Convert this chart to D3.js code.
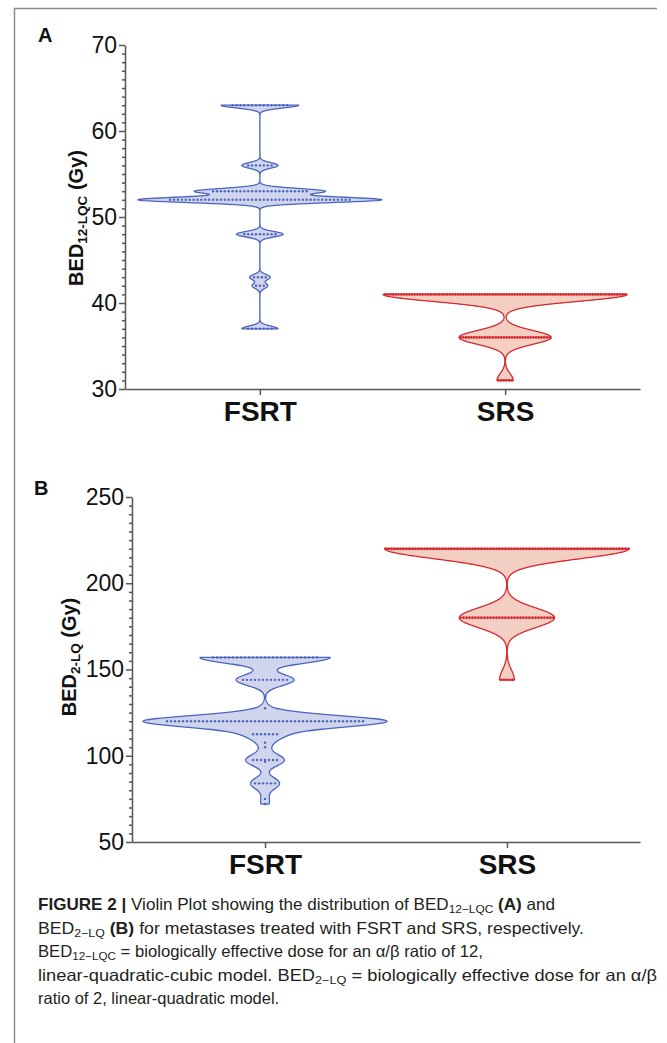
<!DOCTYPE html>
<html>
<head>
<meta charset="utf-8">
<script src="https://cdn.jsdelivr.net/npm/d3@7"></script>
<style>
  body { margin: 0; background: #fff; }
  svg { display: block; font-family: "Liberation Sans", Arial, sans-serif; }
</style>
</head>
<body>
<div class="myChart"></div>
<script>
var svgWidth = 667;
var svgHeight = 1043;

var groups = ["FSRT", "SRS"];

// panel A: BED12-LQC (Gy), value of each dot row and number of metastases in it
var fsrtA_values = [63, 56, 53, 52, 48, 43, 42, 37];
var fsrtA_counts = [15, 7, 25, 47, 9, 4, 3, 7];
var srsA_values = [41, 36, 31];
var srsA_counts = [90, 34, 6];

// panel B: BED2-LQ (Gy)
var fsrtB_values = [157, 144, 127.5, 120, 112.5, 107.5, 105, 97.5, 96.5, 84, 75, 72];
var fsrtB_counts = [27, 12, 1, 50, 7, 1, 1, 7, 1, 6, 1, 1];
var srsB_values = [220, 180, 144];
var srsB_counts = [82, 32, 5];

var yTicksA = [30, 40, 50, 60, 70];
var yTicksB = [50, 100, 150, 200, 250];

var blue = { fill: "#d0d5ee", stroke: "#4863c0", dot: "#5165bb" };
var red = { fill: "#f3cfc3", stroke: "#d8282e", dot: "#d62a30" };

var svg = d3.select(".myChart")
  .append("svg")
  .attr("width", svgWidth)
  .attr("height", svgHeight);

// frame
svg.append("path")
  .attr("d", "M14.5," + svgHeight + "V8.5H657")
  .attr("fill", "none")
  .attr("stroke", "#8c8c8c")
  .attr("stroke-width", 1.5);

function gaussDensity(values, counts, bw) {
  return function(y) {
    var s = 0;
    values.forEach(function(v, i) {
      var d = (y - v) / bw;
      s += counts[i] * Math.exp(-0.5 * d * d);
    });
    return s;
  };
}

function drawPanel(p) {
  var g = svg.append("g");

  var x = d3.scalePoint().domain(groups).range(p.xRange).padding(0.55);
  var y = d3.scaleLinear().domain(p.domain).range(p.yRange);

  p.series.forEach(function(s) {
    var dens = gaussDensity(s.values, s.counts, s.bw);
    var lo = d3.min(s.values), hi = d3.max(s.values);
    var step = (hi - lo) / 600;
    var grid = d3.range(lo, hi + step / 2, step);
    var pts = grid.map(function(v) { return [v, dens(v)]; });
    var w = d3.scaleLinear()
      .domain([0, d3.max(pts, function(d) { return d[1]; })])
      .range([0, 122]);
    var cx = x(s.group);

    var area = d3.area()
      .y(function(d) { return y(d[0]); })
      .x0(function(d) { return cx - w(d[1]); })
      .x1(function(d) { return cx + w(d[1]); });

    g.append("path")
      .datum(pts)
      .attr("d", area)
      .attr("fill", s.color.fill)
      .attr("stroke", s.color.stroke)
      .attr("stroke-width", 1.3)
      .attr("stroke-linejoin", "round");

    // dots
    var dots = [];
    s.values.forEach(function(v, i) {
      for (var k = 0; k < s.counts[i]; k++) {
        dots.push({ v: v, off: (k - (s.counts[i] - 1) / 2) * s.spacing });
      }
    });
    g.selectAll(null)
      .data(dots)
      .enter().append("circle")
      .attr("cx", function(d) { return cx + d.off; })
      .attr("cy", function(d) { return y(d.v); })
      .attr("r", s.r)
      .attr("fill", s.color.dot);
  });

  // minor ticks
  var minor = d3.range(p.domain[0], p.domain[1] + p.minorStep / 2, p.minorStep)
    .filter(function(v) { return p.ticks.indexOf(v) < 0; });
  g.append("g")
    .attr("transform", "translate(" + p.xRange[0] + ",0)")
    .call(d3.axisLeft(y).tickValues(minor).tickSize(3).tickSizeOuter(0).tickFormat(""))
    .call(function(a) { a.select(".domain").remove(); });

  var yAxis = g.append("g")
    .attr("transform", "translate(" + p.xRange[0] + ",0)")
    .call(d3.axisLeft(y).tickValues(p.ticks).tickSize(6).tickSizeOuter(0).tickPadding(2));
  yAxis.selectAll("text")
    .attr("font-size", 23)
    .attr("font-family", "Liberation Sans, Arial, sans-serif")
    .attr("fill", "#111");

  var xAxis = g.append("g")
    .attr("transform", "translate(0," + p.yRange[0] + ")")
    .call(d3.axisBottom(x).tickSize(6).tickSizeOuter(0).tickPadding(6));
  xAxis.selectAll("text")
    .attr("font-size", 28)
    .attr("font-weight", "bold")
    .attr("font-family", "Liberation Sans, Arial, sans-serif")
    .attr("fill", "#111");

  g.selectAll(".domain, .tick line")
    .attr("stroke", "#555")
    .attr("stroke-width", 1.5);

  // axis title
  var t = g.append("text")
    .attr("transform", "translate(" + p.titleX + "," + p.titleY + ") rotate(-90)")
    .attr("text-anchor", "middle")
    .attr("font-size", 20)
    .attr("font-weight", "bold")
    .attr("fill", "#111");
  t.append("tspan").text("BED");
  t.append("tspan").attr("font-size", 13.5).attr("dy", 4).text(p.sub);
  t.append("tspan").attr("dy", -4).text(" (Gy)");

  // panel letter
  g.append("text")
    .attr("x", p.letterX)
    .attr("y", p.letterY)
    .attr("font-size", 20)
    .attr("font-weight", "bold")
    .attr("fill", "#111")
    .text(p.letter);
}

drawPanel({
  letter: "A", letterX: 38, letterY: 42,
  sub: "12-LQC", titleX: 83, titleY: 218,
  xRange: [125, 640], yRange: [389, 45], domain: [30, 70],
  ticks: yTicksA, minorStep: 1,
  series: [
    { group: "FSRT", values: fsrtA_values, counts: fsrtA_counts, bw: 0.32, spacing: 3.9, r: 1.2, color: blue },
    { group: "SRS", values: srsA_values, counts: srsA_counts, bw: 0.8, spacing: 2.7, r: 1.4, color: red }
  ]
});

drawPanel({
  letter: "B", letterX: 34, letterY: 495,
  sub: "2-LQ", titleX: 76, titleY: 657,
  xRange: [132, 640], yRange: [842, 497], domain: [50, 250],
  ticks: yTicksB, minorStep: 5,
  series: [
    { group: "FSRT", values: fsrtB_values, counts: fsrtB_counts, bw: 3.3, spacing: 4, r: 1.2, color: blue },
    { group: "SRS", values: srsB_values, counts: srsB_counts, bw: 5.7, spacing: 3, r: 1.4, color: red }
  ]
});

// caption
var captionLines = [
  { y: 910, len: 517, parts: [["FIGURE 2 | ", "b"], ["Violin Plot showing the distribution of BED"], ["12\u2212LQC", "s"], [" "], ["(A)", "b"], [" and"]] },
  { y: 934, len: 546, parts: [["BED"], ["2\u2212LQ", "s"], [" "], ["(B)", "b"], [" for metastases treated with FSRT and SRS, respectively."]] },
  { y: 957, len: 445, parts: [["BED"], ["12\u2212LQC", "s"], [" = biologically effective dose for an \u03b1/\u03b2 ratio of 12,"]] },
  { y: 981, len: 619, parts: [["linear-quadratic-cubic model. BED"], ["2\u2212LQ", "s"], [" = biologically effective dose for an \u03b1/\u03b2"]] },
  { y: 1004, parts: [["ratio of 2, linear-quadratic model."]] }
];

captionLines.forEach(function(line) {
  var t = svg.append("text")
    .attr("x", 38)
    .attr("y", line.y)
    .attr("font-size", 16.5)
    .attr("fill", "#231f20");
  if (line.len) {
    t.attr("textLength", line.len).attr("lengthAdjust", "spacingAndGlyphs");
  }
  var shifted = false;
  line.parts.forEach(function(pt) {
    var sp = t.append("tspan").text(pt[0]);
    if (pt[1] === "b") sp.attr("font-weight", "bold");
    if (pt[1] === "s") {
      sp.attr("font-size", 11.5).attr("dy", 3);
      shifted = true;
    } else if (shifted) {
      sp.attr("dy", -3);
      shifted = false;
    }
  });
});
</script>
</body>
</html>
